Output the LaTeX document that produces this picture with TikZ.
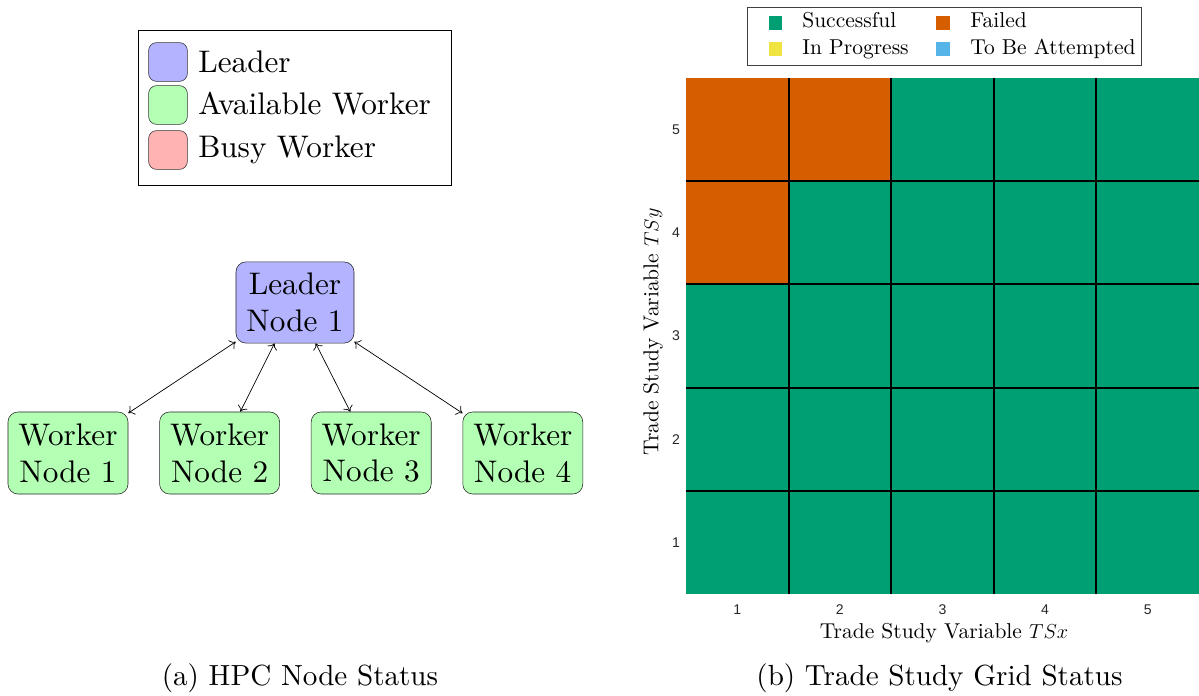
\documentclass[tikz,border=0pt]{standalone}
\usepackage{fontspec}
\setmainfont{lmroman10-regular.otf}[ItalicFont=lmroman10-italic.otf, BoldFont=lmroman10-bold.otf]
\newfontfamily\tickfont{Liberation Sans}
\usetikzlibrary{positioning}
\usetikzlibrary{arrows.meta}
\tikzset{>={To[length=1.4mm,width=2.6mm]}}
\definecolor{leaderblue}{RGB}{179,179,255}
\definecolor{workergreen}{RGB}{179,255,179}
\definecolor{busyred}{RGB}{255,179,179}
\definecolor{okgreen}{RGB}{0,158,115}
\definecolor{okorange}{RGB}{213,94,0}
\definecolor{okyellow}{RGB}{240,228,66}
\definecolor{okblue}{RGB}{86,180,233}
\newcommand{\nodetext}{\fontsize{22.2}{26.3}\selectfont}
\newcommand{\captext}{\fontsize{20.7}{25}\selectfont}
\newcommand{\keytext}{\fontsize{15.3}{18}\selectfont}

\begin{document}
\begin{tikzpicture}[x=0.025cm, y=-0.025cm, hpcnode/.style={rounded corners=0.25cm, draw=black!85, align=center, font=\nodetext, inner sep=2pt}, leadernode/.style={hpcnode, fill=leaderblue, minimum width=2.95cm, minimum height=2.03cm}, workernode/.style={hpcnode, fill=workergreen, minimum width=3cm, minimum height=2.05cm}, swatch/.style={rounded corners=0.2cm, draw=black!80, minimum size=0.97cm, inner sep=0pt}, keylabel/.style={font=\nodetext, inner sep=0pt, anchor=base west}, keysquare/.style={minimum size=0.33cm, inner sep=0pt}, gridkey/.style={font=\keytext, inner sep=0pt, anchor=base west}, ticklabel/.style={font=\tickfont\fontsize{10}{12}\selectfont, text=black!85, inner sep=0pt}, gridline/.style={line width=1.3pt, black}]
    \useasboundingbox (0,0) rectangle (1199,696);

    %Legend (a)
    \node[draw=black, minimum width=7.825cm, minimum height=3.875cm] (nodekey) at (294.5,107.5) {};
    \node[swatch, fill=leaderblue](key_leader) at (168,62) {};
    \node[swatch, fill=workergreen](key_avail) at (168,105) {};
    \node[swatch, fill=busyred](key_busy) at (168,150) {};
    \node[keylabel](key_leader_text) at (198,73) {Leader};
    \node[keylabel](key_avail_text) at (198,115) {Available Worker};
    \node[keylabel](key_busy_text) at (198,158) {Busy Worker};

    %Nodes
    \node[leadernode](leader) at (295,302.5) {Leader\\Node 1};
    \node[workernode](worker1) at (68,453) {Worker\\Node 1};
    \node[workernode](worker2)[right=0.775cm of worker1] {Worker\\Node 2};
    \node[workernode](worker3)[right=0.775cm of worker2] {Worker\\Node 3};
    \node[workernode](worker4)[right=0.775cm of worker3] {Worker\\Node 4};

    %Lines
    \draw[<->, line width=0.5pt] (leader) -- (worker1);
    \draw[<->, line width=0.5pt] (leader) -- (worker2);
    \draw[<->, line width=0.5pt] (leader) -- (worker3);
    \draw[<->, line width=0.5pt] (leader) -- (worker4);

    %Grid (b)
    \foreach \c in {1,...,5}
        \foreach \r in {1,...,5}
            \fill[okgreen] ({686+(\c-1)*102.6},{594-\r*103.2}) rectangle ++(102.6,103.2);
    \foreach \c/\r in {1/5,2/5,1/4}
        \fill[okorange] ({686+(\c-1)*102.6},{594-\r*103.2}) rectangle ++(102.6,103.2);
    \foreach \k in {1,...,4} {
        \draw[gridline] ({686+\k*102.6},78) -- ++(0,516);
        \draw[gridline] (686,{594-\k*103.2}) -- ++(513,0);
    }
    \foreach \k in {1,...,5} {
        \node[ticklabel](xtick\k) at ({686+(\k-0.5)*102.6},610) {\k};
        \node[ticklabel](ytick\k) at (676,{594-(\k-0.5)*103.2}) {\k};
    }
    \node[font=\keytext](xlabel) at (944,633) {Trade Study Variable $TSx$};
    \node[font=\keytext, rotate=90](ylabel) at (653,332) {Trade Study Variable $TSy$};

    %Legend (b)
    \node[draw=black!75, fill=white, minimum width=9.85cm, minimum height=1.45cm] (statuskey) at (944,36) {};
    \node[keysquare, fill=okgreen](key_success) at (775.5,23) {};
    \node[keysquare, fill=okorange](key_failed) at (943,23) {};
    \node[keysquare, fill=okyellow](key_progress) at (775.5,49) {};
    \node[keysquare, fill=okblue](key_todo) at (943,49) {};
    \node[gridkey](key_success_text) at (802,27.7) {Successful};
    \node[gridkey](key_failed_text) at (970,27.7) {Failed};
    \node[gridkey](key_progress_text) at (802,54.3) {In Progress};
    \node[gridkey](key_todo_text) at (970,54.3) {To Be Attempted};

    %Captions
    \node[font=\captext](cap_a) at (300,678) {(a) HPC Node Status};
    \node[font=\captext](cap_b) at (939.5,678) {(b) Trade Study Grid Status};

\end{tikzpicture}
\end{document}
